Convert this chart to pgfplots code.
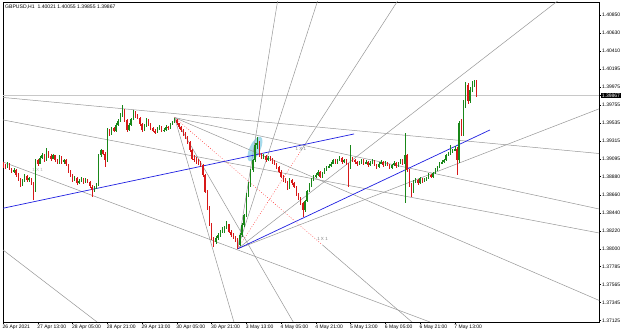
\documentclass[border=0pt]{standalone}
\usepackage{pgfplots}
\pgfplotsset{compat=1.18}
\usepackage{pgfplotstable}
\usepackage{fontspec}
\setmainfont{Liberation Sans}
\definecolor{upc}{RGB}{25,135,25}
\definecolor{dnc}{RGB}{215,25,25}
\definecolor{lg}{RGB}{150,150,150}
\definecolor{bidc}{RGB}{200,200,200}
\definecolor{bl}{RGB}{30,30,225}
\definecolor{ellc}{RGB}{165,218,235}

\pgfplotstableread{
x o h l c
0 1.3904 1.3906 1.3899 1.3902
1 1.3902 1.3904 1.3897 1.3900
2 1.3900 1.3906 1.3899 1.3904
3 1.3904 1.3905 1.3896 1.3898
4 1.3898 1.3899 1.3892 1.3894
5 1.3894 1.3898 1.3892 1.3896
6 1.3896 1.3897 1.3888 1.3890
7 1.3890 1.3892 1.3883 1.3885
8 1.3885 1.3886 1.3875 1.3878
9 1.3878 1.3885 1.3877 1.3883
10 1.3883 1.3891 1.3882 1.3889
11 1.3889 1.3890 1.3882 1.3884
12 1.3884 1.3888 1.3882 1.3886
13 1.3886 1.3887 1.3878 1.3880
14 1.3880 1.3882 1.3860 1.3872
15 1.3872 1.3910 1.3870 1.3908
16 1.3908 1.3910 1.3901 1.3904
17 1.3904 1.3913 1.3903 1.3911
18 1.3911 1.3917 1.3909 1.3914
19 1.3914 1.3916 1.3906 1.3908
20 1.3908 1.3923 1.3907 1.3918
21 1.3918 1.3919 1.3911 1.3913
22 1.3913 1.3915 1.3907 1.3910
23 1.3910 1.3916 1.3909 1.3914
24 1.3914 1.3915 1.3906 1.3908
25 1.3908 1.3910 1.3903 1.3905
26 1.3905 1.3914 1.3904 1.3912
27 1.3912 1.3913 1.3904 1.3906
28 1.3906 1.3910 1.3904 1.3908
29 1.3908 1.3909 1.3901 1.3903
30 1.3903 1.3904 1.3892 1.3894
31 1.3894 1.3896 1.3888 1.3890
32 1.3890 1.3891 1.3882 1.3884
33 1.3884 1.3889 1.3883 1.3887
34 1.3887 1.3888 1.3878 1.3880
35 1.3880 1.3885 1.3879 1.3883
36 1.3883 1.3888 1.3882 1.3886
37 1.3886 1.3887 1.3879 1.3881
38 1.3881 1.3886 1.3880 1.3884
39 1.3884 1.3885 1.3880 1.3882
40 1.3882 1.3883 1.3874 1.3876
41 1.3876 1.3878 1.3863 1.3872
42 1.3872 1.3877 1.3870 1.3875
43 1.3875 1.3880 1.3873 1.3878
44 1.3878 1.3916 1.3877 1.3914
45 1.3914 1.3922 1.3912 1.3920
46 1.3920 1.3921 1.3914 1.3916
47 1.3916 1.3918 1.3900 1.3908
48 1.3908 1.3947 1.3906 1.3945
49 1.3945 1.3946 1.3938 1.3940
50 1.3940 1.3949 1.3939 1.3947
51 1.3947 1.3948 1.3942 1.3944
52 1.3944 1.3953 1.3943 1.3951
53 1.3951 1.3958 1.3950 1.3956
54 1.3956 1.3965 1.3955 1.3963
55 1.3963 1.3975 1.3961 1.3968
56 1.3968 1.3970 1.3955 1.3957
57 1.3957 1.3958 1.3943 1.3945
58 1.3945 1.3953 1.3944 1.3951
59 1.3951 1.3960 1.3950 1.3958
60 1.3958 1.3969 1.3957 1.3967
61 1.3967 1.3968 1.3960 1.3962
62 1.3962 1.3964 1.3958 1.3960
63 1.3960 1.3961 1.3950 1.3952
64 1.3952 1.3954 1.3943 1.3945
65 1.3945 1.3952 1.3944 1.3950
66 1.3950 1.3959 1.3949 1.3957
67 1.3957 1.3958 1.3950 1.3952
68 1.3952 1.3953 1.3945 1.3947
69 1.3947 1.3949 1.3942 1.3944
70 1.3944 1.3946 1.3940 1.3942
71 1.3942 1.3948 1.3941 1.3946
72 1.3946 1.3951 1.3945 1.3949
73 1.3949 1.3950 1.3942 1.3944
74 1.3944 1.3947 1.3943 1.3945
75 1.3945 1.3951 1.3944 1.3949
76 1.3949 1.3950 1.3945 1.3947
77 1.3947 1.3954 1.3946 1.3952
78 1.3952 1.3956 1.3951 1.3954
79 1.3954 1.3960 1.3953 1.3957
80 1.3957 1.3958 1.3951 1.3953
81 1.3953 1.3954 1.3946 1.3948
82 1.3948 1.3950 1.3943 1.3945
83 1.3945 1.3946 1.3938 1.3940
84 1.3940 1.3942 1.3934 1.3936
85 1.3936 1.3937 1.3928 1.3930
86 1.3930 1.3931 1.3918 1.3920
87 1.3920 1.3922 1.3908 1.3910
88 1.3910 1.3914 1.3906 1.3908
89 1.3908 1.3912 1.3904 1.3906
90 1.3906 1.3909 1.3902 1.3904
91 1.3904 1.3907 1.3900 1.3902
92 1.3902 1.3903 1.3888 1.3890
93 1.3890 1.3891 1.3868 1.3870
94 1.3870 1.3872 1.3848 1.3850
95 1.3850 1.3852 1.3828 1.3830
96 1.3830 1.3832 1.3811 1.3813
97 1.3813 1.3815 1.3802 1.3808
98 1.3808 1.3816 1.3806 1.3813
99 1.3813 1.3819 1.3811 1.3817
100 1.3817 1.3823 1.3815 1.3821
101 1.3821 1.3827 1.3819 1.3824
102 1.3824 1.3828 1.3820 1.3825
103 1.3825 1.3834 1.3824 1.3830
104 1.3830 1.3831 1.3819 1.3821
105 1.3821 1.3823 1.3815 1.3817
106 1.3817 1.3820 1.3812 1.3814
107 1.3814 1.3816 1.3808 1.3811
108 1.3811 1.3813 1.3800 1.3805
109 1.3805 1.3819 1.3803 1.3817
110 1.3817 1.3831 1.3815 1.3829
111 1.3829 1.3843 1.3827 1.3841
112 1.3841 1.3868 1.3839 1.3866
113 1.3866 1.3881 1.3863 1.3878
114 1.3878 1.3898 1.3876 1.3896
115 1.3896 1.3910 1.3894 1.3908
116 1.3908 1.3929 1.3906 1.3927
117 1.3927 1.3936 1.3922 1.3929
118 1.3929 1.3931 1.3912 1.3914
119 1.3914 1.3917 1.3909 1.3911
120 1.3911 1.3916 1.3910 1.3913
121 1.3913 1.3914 1.3906 1.3908
122 1.3908 1.3913 1.3907 1.3911
123 1.3911 1.3913 1.3907 1.3909
124 1.3909 1.3911 1.3904 1.3906
125 1.3906 1.3908 1.3902 1.3904
126 1.3904 1.3905 1.3898 1.3900
127 1.3900 1.3901 1.3892 1.3894
128 1.3894 1.3896 1.3886 1.3888
129 1.3888 1.3890 1.3882 1.3884
130 1.3884 1.3886 1.3880 1.3882
131 1.3882 1.3883 1.3872 1.3874
132 1.3874 1.3886 1.3873 1.3884
133 1.3884 1.3885 1.3878 1.3880
134 1.3880 1.3882 1.3874 1.3876
135 1.3876 1.3877 1.3864 1.3866
136 1.3866 1.3868 1.3860 1.3862
137 1.3862 1.3863 1.3854 1.3856
138 1.3856 1.3857 1.3839 1.3847
139 1.3847 1.3860 1.3845 1.3858
140 1.3858 1.3872 1.3857 1.3870
141 1.3870 1.3880 1.3869 1.3878
142 1.3878 1.3886 1.3876 1.3884
143 1.3884 1.3890 1.3883 1.3888
144 1.3888 1.3892 1.3886 1.3890
145 1.3890 1.3896 1.3889 1.3894
146 1.3894 1.3895 1.3886 1.3888
147 1.3888 1.3894 1.3887 1.3892
148 1.3892 1.3898 1.3891 1.3896
149 1.3896 1.3901 1.3895 1.3899
150 1.3899 1.3903 1.3898 1.3901
151 1.3901 1.3906 1.3900 1.3904
152 1.3904 1.3910 1.3903 1.3908
153 1.3908 1.3909 1.3903 1.3905
154 1.3905 1.3910 1.3904 1.3908
155 1.3908 1.3913 1.3907 1.3911
156 1.3911 1.3912 1.3904 1.3906
157 1.3906 1.3910 1.3905 1.3908
158 1.3908 1.3909 1.3902 1.3904
159 1.3904 1.3905 1.3875 1.3899
160 1.3899 1.3927 1.3898 1.3911
161 1.3911 1.3912 1.3906 1.3908
162 1.3908 1.3910 1.3904 1.3906
163 1.3906 1.3907 1.3901 1.3903
164 1.3903 1.3907 1.3902 1.3905
165 1.3905 1.3910 1.3904 1.3908
166 1.3908 1.3909 1.3902 1.3904
167 1.3904 1.3908 1.3903 1.3906
168 1.3906 1.3907 1.3900 1.3902
169 1.3902 1.3907 1.3901 1.3905
170 1.3905 1.3909 1.3904 1.3907
171 1.3907 1.3908 1.3901 1.3903
172 1.3903 1.3904 1.3898 1.3900
173 1.3900 1.3906 1.3899 1.3904
174 1.3904 1.3908 1.3903 1.3906
175 1.3906 1.3907 1.3900 1.3902
176 1.3902 1.3907 1.3901 1.3905
177 1.3905 1.3906 1.3901 1.3903
178 1.3903 1.3904 1.3897 1.3899
179 1.3899 1.3904 1.3898 1.3902
180 1.3902 1.3907 1.3901 1.3905
181 1.3905 1.3906 1.3899 1.3901
182 1.3901 1.3906 1.3900 1.3904
183 1.3904 1.3910 1.3903 1.3908
184 1.3908 1.3909 1.3902 1.3904
185 1.3904 1.3941 1.3856 1.3914
186 1.3914 1.3916 1.3894 1.3896
187 1.3896 1.3898 1.3876 1.3878
188 1.3878 1.3880 1.3863 1.3870
189 1.3870 1.3884 1.3868 1.3882
190 1.3882 1.3886 1.3880 1.3884
191 1.3884 1.3885 1.3878 1.3880
192 1.3880 1.3888 1.3879 1.3886
193 1.3886 1.3887 1.3880 1.3882
194 1.3882 1.3886 1.3881 1.3884
195 1.3884 1.3888 1.3883 1.3886
196 1.3886 1.3892 1.3885 1.3890
197 1.3890 1.3891 1.3886 1.3888
198 1.3888 1.3894 1.3887 1.3892
199 1.3892 1.3898 1.3891 1.3896
200 1.3896 1.3901 1.3895 1.3899
201 1.3899 1.3906 1.3898 1.3904
202 1.3904 1.3908 1.3903 1.3906
203 1.3906 1.3910 1.3905 1.3908
204 1.3908 1.3916 1.3907 1.3914
205 1.3914 1.3918 1.3913 1.3916
206 1.3916 1.3927 1.3915 1.3918
207 1.3918 1.3922 1.3917 1.3920
208 1.3920 1.3925 1.3919 1.3922
209 1.3922 1.3924 1.3890 1.3908
210 1.3908 1.3956 1.3905 1.3953
211 1.3953 1.3958 1.3938 1.3941
212 1.3941 1.3981 1.3938 1.3978
213 1.3978 1.4004 1.3972 1.4000
214 1.4000 1.4002 1.3976 1.3980
215 1.3980 1.3997 1.3978 1.3994
216 1.3994 1.4005 1.3991 1.4000
217 1.4000 1.4006 1.3997 1.4002
218 1.40021 1.40055 1.39855 1.39867
}\candles

\begin{document}
\begin{tikzpicture}
\path[use as bounding box] (0,0) rectangle (625pt,335pt);
\begin{axis}[
  at={(3pt,13pt)}, anchor=south west,
  scale only axis, width=596pt, height=320pt,
  xmin=0, xmax=274.4, ymin=1.37109, ymax=1.41008,
  axis line style={black, line width=0.6pt},
  tick align=outside, major tick length=2pt,
  tick style={black, line width=0.4pt},
  xtick pos=bottom, ytick pos=right, yticklabel pos=right,
  xtick={0,16,...,208},
  xticklabels={26 Apr 2021,27 Apr 13:00,28 Apr 05:00,28 Apr 21:00,29 Apr 13:00,30 Apr 05:00,30 Apr 21:00,3 May 13:00,4 May 05:00,4 May 21:00,5 May 13:00,6 May 05:00,6 May 21:00,7 May 13:00},
  ytick={1.37125,1.37345,1.37565,1.37785,1.38000,1.38220,1.38440,1.38660,1.38880,1.39095,1.39315,1.39535,1.39755,1.39975,1.40195,1.40410,1.40630,1.40850},
  yticklabels={1.37125,1.37345,1.37565,1.37785,1.38000,1.38220,1.38440,1.38660,1.38880,1.39095,1.39315,1.39535,1.39755,1.39975,1.40195,1.40410,1.40630,1.40850},
  ticklabel style={font=\fontsize{5}{6}\selectfont, text=black},
  xticklabel style={anchor=north west, inner sep=0.5pt, xshift=-1pt},
  yticklabel style={anchor=west, inner sep=1pt},
  extra y ticks={1.39867},
  extra y tick labels={1.39867},
  extra y tick style={yticklabel style={fill=black, text=white, inner sep=0.7pt}},
  clip=true,
]
% bid line
\addplot[bidc, line width=0.6pt, forget plot] coordinates {(0,1.39867) (274.4,1.39867)};
% highlight ellipse
\fill[ellc, rotate around={-25:(axis cs:116,1.39217)}] (axis cs:116,1.39217) ellipse [x radius=5.4pt, y radius=13.5pt];
% free gray lines
\addplot[lg, line width=0.5pt, forget plot] coordinates {(0,1.39845) (274.4,1.39162)};
\addplot[lg, line width=0.5pt, forget plot] coordinates {(0,1.39571) (274.4,1.38194)};
\addplot[lg, line width=0.5pt, forget plot] coordinates {(0,1.39059) (196.6,1.37109)};
\addplot[lg, line width=0.5pt, forget plot] coordinates {(0,1.37987) (43.3,1.37109)};
% top Gann fan
\addplot[lg, line width=0.5pt, forget plot] coordinates {(79,1.3960) (109,1.36864)};
\addplot[lg, line width=0.5pt, forget plot] coordinates {(79,1.3960) (139,1.36864)};
\addplot[lg, line width=0.5pt, forget plot] coordinates {(147,1.38050) (199,1.36864)};
\addplot[lg, line width=0.5pt, forget plot] coordinates {(79,1.3960) (279,1.3732)};
\addplot[lg, line width=0.5pt, forget plot] coordinates {(79,1.3960) (279,1.3846)};
\addplot[red!80, line width=0.45pt, dash pattern=on 0.8pt off 1.8pt, forget plot] coordinates {(79,1.3960) (147,1.38050)};
% bottom Gann fan
\addplot[lg, line width=0.5pt, forget plot] coordinates {(108,1.3800) (128,1.4128)};
\addplot[lg, line width=0.5pt, forget plot] coordinates {(108,1.3800) (148,1.4128)};
\addplot[lg, line width=0.5pt, forget plot] coordinates {(137,1.39189) (188,1.4128)};
\addplot[lg, line width=0.5pt, forget plot] coordinates {(108,1.3800) (268,1.4128)};
\addplot[lg, line width=0.5pt, forget plot] coordinates {(108,1.3800) (279,1.39753)};
\addplot[red!80, line width=0.45pt, dash pattern=on 0.8pt off 1.8pt, forget plot] coordinates {(108,1.3800) (137,1.39189)};
% blue trend lines
\addplot[bl, line width=0.7pt, forget plot] coordinates {(0,1.38495) (161.6,1.39400)};
\addplot[bl, line width=0.7pt, forget plot] coordinates {(108,1.3800) (224.2,1.39449)};
% candles: wicks
\addplot[draw=none, forget plot, error bars/.cd, y dir=both, y explicit, error mark=none,
  error bar style={draw=upc, line width=0.45pt}]
  table[x=x, y expr={\thisrow{c}>=\thisrow{o} ? (\thisrow{h}+\thisrow{l})/2 : nan},
        y error expr={(\thisrow{h}-\thisrow{l})/2}] {\candles};
\addplot[draw=none, forget plot, error bars/.cd, y dir=both, y explicit, error mark=none,
  error bar style={draw=dnc, line width=0.45pt}]
  table[x=x, y expr={\thisrow{c}<\thisrow{o} ? (\thisrow{h}+\thisrow{l})/2 : nan},
        y error expr={(\thisrow{h}-\thisrow{l})/2}] {\candles};
% candles: bodies
\addplot[draw=none, forget plot, error bars/.cd, y dir=both, y explicit, error mark=none,
  error bar style={draw=upc, line width=1.3pt}]
  table[x=x, y expr={\thisrow{c}>=\thisrow{o} ? (\thisrow{o}+\thisrow{c})/2 : nan},
        y error expr={abs(\thisrow{c}-\thisrow{o})/2}] {\candles};
\addplot[draw=none, forget plot, error bars/.cd, y dir=both, y explicit, error mark=none,
  error bar style={draw=dnc, line width=1.3pt}]
  table[x=x, y expr={\thisrow{c}<\thisrow{o} ? (\thisrow{o}+\thisrow{c})/2 : nan},
        y error expr={abs(\thisrow{c}-\thisrow{o})/2}] {\candles};
% labels
\node[font=\fontsize{4.5}{5}\selectfont, text=gray] at (axis cs:147.1,1.3812) {1 X 1};
\node[font=\fontsize{4.5}{5}\selectfont, text=gray] at (axis cs:137.1,1.39214) {1 X 1};
\node[font=\fontsize{4.5}{5}\selectfont, text=black!30] at (axis cs:15.9,1.38961) {1 X 1};
\node[anchor=north west, inner sep=0pt, font=\fontsize{5.1}{6}\selectfont] at (rel axis cs:0,1) [xshift=2pt, yshift=-2.6pt] {GBPUSD,H1\ \ 1.40021 1.40055 1.39855 1.39867};
\end{axis}
\end{tikzpicture}
\end{document}
